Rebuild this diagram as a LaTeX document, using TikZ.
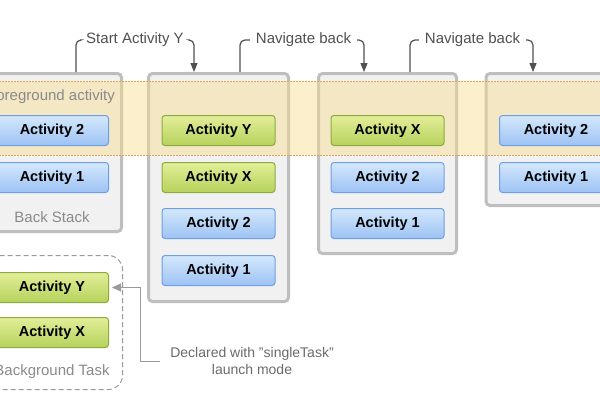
\documentclass[tikz,border=0pt]{standalone}
\usepackage{fontspec}
\setmainfont{Liberation Sans}
\usetikzlibrary{arrows.meta}

\definecolor{stackfill}{HTML}{F1F1F1}
\definecolor{stackline}{HTML}{BEBEBE}
\definecolor{bluetop}{HTML}{D4E8FC}
\definecolor{bluebot}{HTML}{9DC2F4}
\definecolor{blueline}{HTML}{6E9FE4}
\definecolor{greentop}{HTML}{E2EE98}
\definecolor{greenbot}{HTML}{B6D25C}
\definecolor{greenline}{HTML}{8DAA42}
\definecolor{bandfill}{HTML}{F7DE8C}
\definecolor{bandline}{HTML}{E3A35A}
\definecolor{notegray}{HTML}{505050}
\definecolor{softgray}{HTML}{8A8A8A}
\definecolor{pointgray}{HTML}{9A9A9A}

\tikzset{
	stackbox/.style={draw=stackline, fill=stackfill, line width=3pt, rounded corners=4pt, inner sep=0pt},
	act/.style={rounded corners=3pt, line width=1pt, minimum width=113pt, minimum height=30pt, inner sep=0pt,
		font=\bfseries\fontsize{14.5}{17}\selectfont},
	blueact/.style={act, draw=blueline, top color=bluetop, bottom color=bluebot},
	greenact/.style={act, draw=greenline, top color=greentop, bottom color=greenbot},
	caption/.style={text=softgray, inner sep=3pt, font=\fontsize{15}{17}\selectfont},
	note/.style={text=notegray, inner sep=3pt, font=\fontsize{15}{17}\selectfont},
	annot/.style={draw=notegray, line width=1.2pt, rounded corners=5pt},
}

\begin{document}
\begin{tikzpicture}[x=1pt, y=-1pt]
	\useasboundingbox (0,0) rectangle (600,400);
	\clip (0,0) rectangle (600,400);

	% the four back stacks
	\node[stackbox, minimum width=139pt, minimum height=158pt] (stackA) at (52,152.5) {};
	\node[stackbox, minimum width=140pt, minimum height=228pt] (stackB) at (218.5,187.5) {};
	\node[stackbox, minimum width=138pt, minimum height=180pt] (stackC) at (387.5,163.5) {};
	\node[stackbox, minimum width=140pt, minimum height=132pt] (stackD) at (556,139.5) {};

	% foreground band
	\fill[bandfill, opacity=0.45] (-10,81) rectangle (610,155);
	\draw[bandline, line width=0.8pt, dash pattern=on 1.5pt off 1.5pt] (-10,81) -- (610,81)
		(-10,155) -- (610,155);
	\node[caption, anchor=east] (fgLabel) at (118,97) {Foreground activity};

	\node[blueact]	(a2)	at (52,130.5)	{Activity 2};
	\node[blueact]	(a1)	at (52,177.5)	{Activity 1};
	\node[caption]	(backLabel)	at (52,217)	{Back Stack};

	\node[greenact]	(bY)	at (218.5,130.5)	{Activity Y};
	\node[greenact]	(bX)	at (218.5,177.5)	{Activity X};
	\node[blueact]	(b2)	at (218.5,223.5)	{Activity 2};
	\node[blueact]	(b1)	at (218.5,270.5)	{Activity 1};

	\node[greenact]	(cX)	at (387.5,130.5)	{Activity X};
	\node[blueact]	(c2)	at (387.5,177.5)	{Activity 2};
	\node[blueact]	(c1)	at (387.5,223.5)	{Activity 1};

	\node[blueact]	(d2)	at (556,130.5)	{Activity 2};
	\node[blueact]	(d1)	at (556,177.5)	{Activity 1};

	% background task
	\node[draw=pointgray, line width=1pt, dash pattern=on 5pt off 3pt, rounded corners=14pt,
		minimum width=142pt, minimum height=134pt] (bgTask) at (51.5,322.5) {};
	\node[greenact]	(bgY)	at (52,287.5)	{Activity Y};
	\node[greenact]	(bgX)	at (52,332.5)	{Activity X};
	\node[caption]	(bgLabel)	at (52,372)	{Background Task};

	% steps
	\node[note] (startY) at (135,40) {Start Activity Y};
	\node[note] (navA) at (303.5,40) {Navigate back};
	\node[note] (navB) at (472.5,40) {Navigate back};

	\draw[annot] ([xshift=24pt]stackA.north) |- ([xshift=-3pt]startY.west);
	\draw[annot, -{Triangle[length=9pt,width=7pt]}] ([xshift=3pt]startY.east) -| ([xshift=-24.5pt]stackB.north);
	\draw[annot] ([xshift=21.5pt]stackB.north) |- ([xshift=-3pt]navA.west);
	\draw[annot, -{Triangle[length=9pt,width=7pt]}] ([xshift=3pt]navA.east) -| ([xshift=-23.5pt]stackC.north);
	\draw[annot] ([xshift=22.5pt]stackC.north) |- ([xshift=-3pt]navB.west);
	\draw[annot, -{Triangle[length=9pt,width=7pt]}] ([xshift=3pt]navB.east) -| ([xshift=-23pt]stackD.north);

	% launch mode note
	\node[note, text=notegray!85, font=\fontsize{14}{17}\selectfont, align=center] (declNote) at (252,361)
		{Declared with "singleTask"\\launch mode};
	\draw[pointgray, line width=1pt, -{Triangle[length=9pt,width=8pt]}]
		([xshift=-7pt]declNote.west) -- ++(-20,0) |- ([xshift=3pt]bgY.east);
\end{tikzpicture}
\end{document}
